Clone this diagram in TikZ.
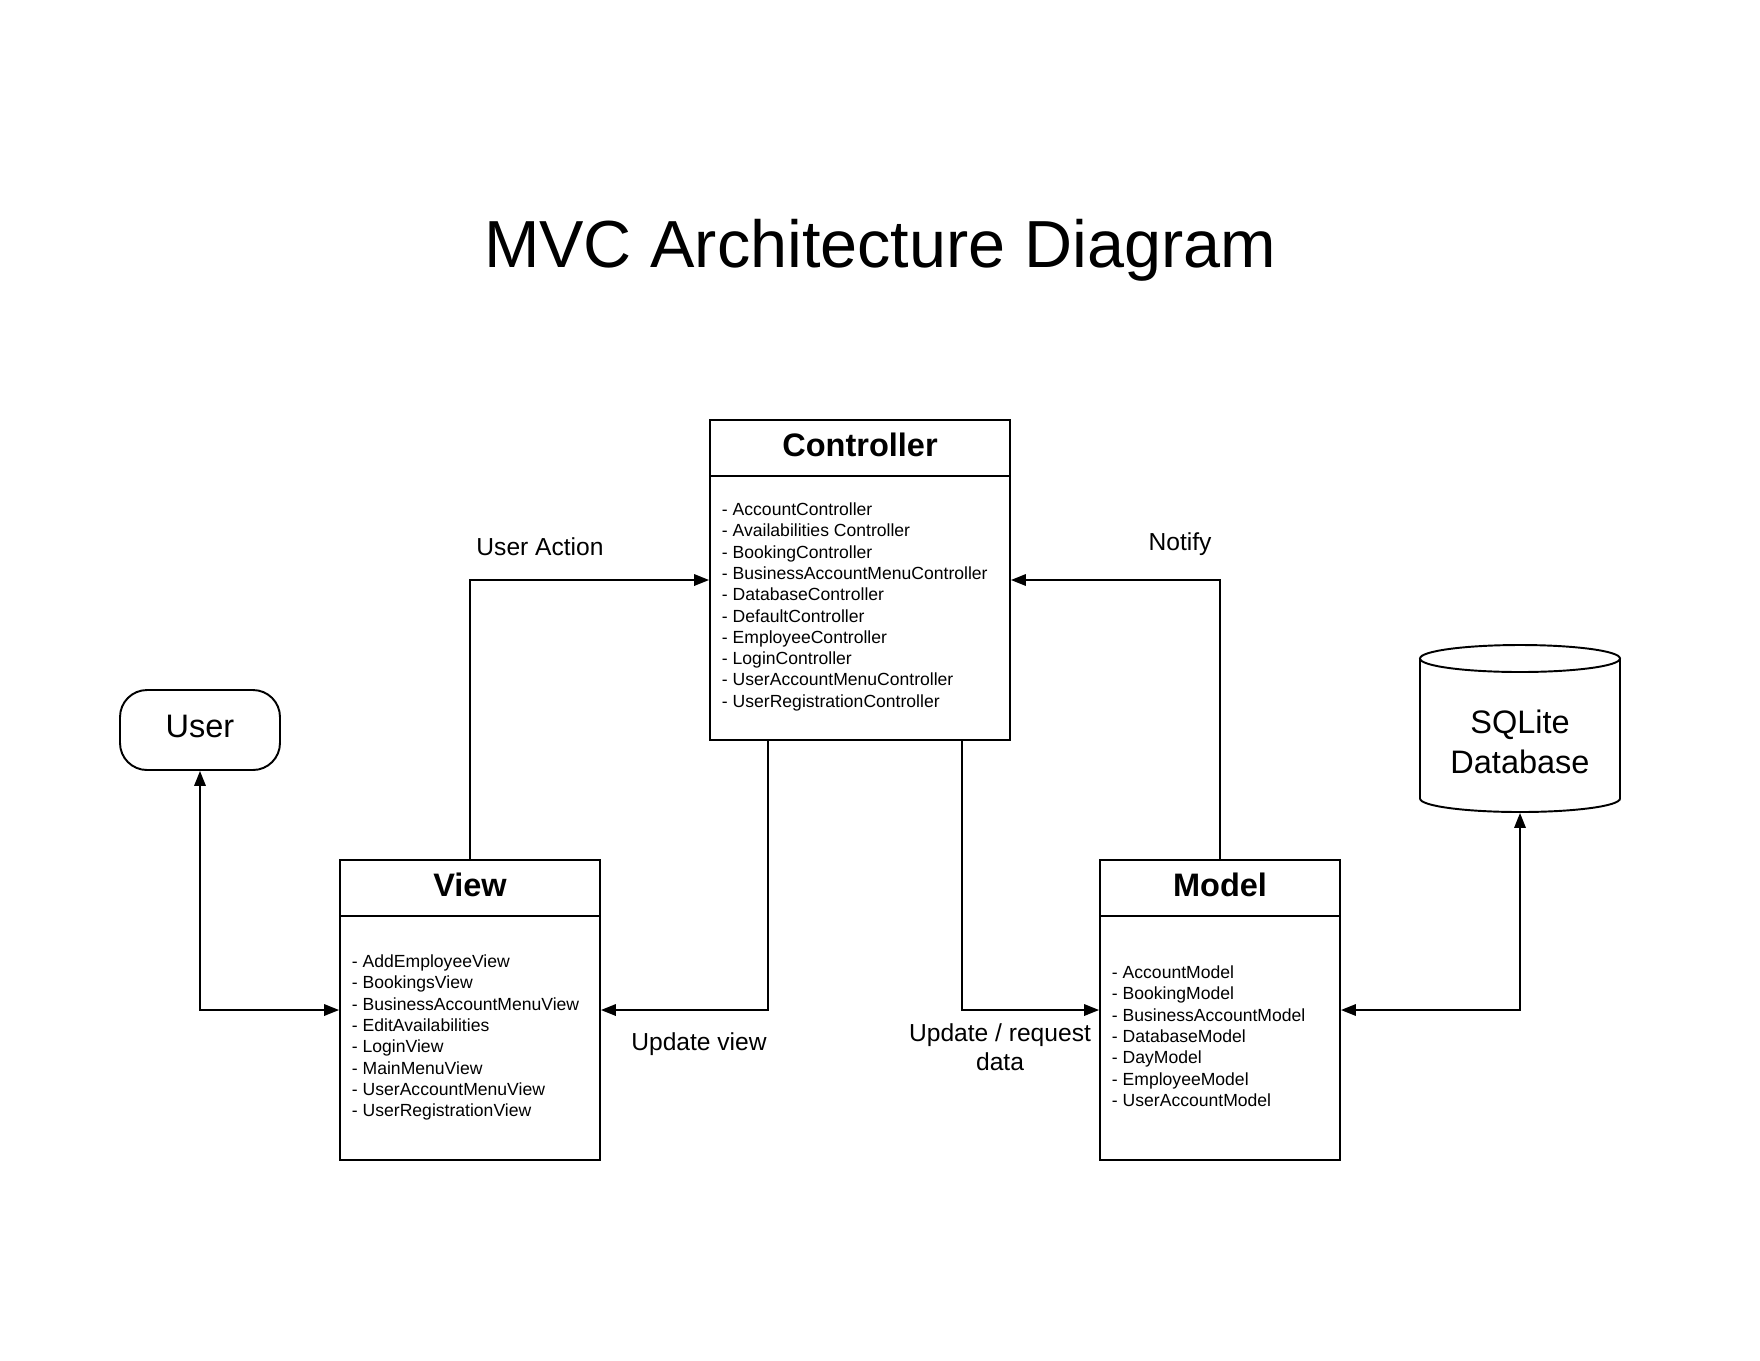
\documentclass[tikz,border=0pt]{standalone}
\usepackage{fontspec}
\setmainfont{Liberation Sans}
\usetikzlibrary{arrows.meta,calc}

\tikzset{
  classbox/.style={draw,rectangle,inner sep=0pt},
  headbox/.style={draw,rectangle,inner sep=0pt,minimum height=1.12cm,text depth=3.9pt,
    font=\fontsize{18.5}{22}\selectfont\bfseries},
  itemlist/.style={align=left,anchor=north west,inner sep=0pt,
    font=\fontsize{10}{12.1}\selectfont},
  flowlabel/.style={inner sep=0pt,font=\fontsize{14}{16.5}\selectfont},
  bigtext/.style={inner sep=0pt,font=\fontsize{18.5}{22.8}\selectfont}
}

\begin{document}
\begin{tikzpicture}[x=0.02cm,y=0.02cm,line width=1.1pt,
    >={Triangle[length=8.5pt,width=6.5pt]}]
  \useasboundingbox (0,0) rectangle (1760,-1360);
  % Title
  \node[inner sep=0pt,font=\fontsize{37.9}{45}\selectfont,anchor=base] (title)
    at (880,-267) {MVC Architecture Diagram};

  % Controller
  \node[classbox,minimum width=6cm,minimum height=6.4cm] (ctrl) at (860,-580) {};
  \node[headbox,minimum width=6cm,anchor=north] (ctrlhead) at (ctrl.north) {Controller};
  \node[itemlist] (ctrlitems) at (721,-502) {- AccountController\\- Availabilities Controller\\- BookingController\\- BusinessAccountMenuController\\- DatabaseController\\- DefaultController\\- EmployeeController\\- LoginController\\- UserAccountMenuController\\- UserRegistrationController};

  % View
  \node[classbox,minimum width=5.2cm,minimum height=6cm] (view) at (470,-1010) {};
  \node[headbox,minimum width=5.2cm,anchor=north] (viewhead) at (view.north) {View};
  \node[itemlist] (viewitems) at (351,-954) {- AddEmployeeView\\- BookingsView\\- BusinessAccountMenuView\\- EditAvailabilities\\- LoginView\\- MainMenuView\\- UserAccountMenuView\\- UserRegistrationView};

  % Model
  \node[classbox,minimum width=4.8cm,minimum height=6cm] (model) at (1220,-1010) {};
  \node[headbox,minimum width=4.8cm,anchor=north] (modelhead) at (model.north) {Model};
  \node[itemlist] (modelitems) at (1111,-965) {- AccountModel\\- BookingModel\\- BusinessAccountModel\\- DatabaseModel\\- DayModel\\- EmployeeModel\\- UserAccountModel};

  % User and database
  \node[draw,bigtext,text depth=3.9pt,rounded corners=0.54cm,minimum width=3.2cm,minimum height=1.6cm] (user)
    at (200,-730) {User};
  \node[bigtext,align=center,minimum width=4cm,minimum height=2.8cm] (db)
    at (1520,-742) {SQLite\\Database};
  \draw (1420,-658.5) -- (1420,-798.5)
    arc[start angle=180,end angle=360,x radius=100,y radius=13.5] -- (1620,-658.5);
  \draw (1520,-658.5) ellipse [x radius=100,y radius=13.5];

  % Connectors
  \draw[->] (view.north) |- (ctrl.west);
  \draw[->] ($(ctrl.south)+(-92,0)$) |- (view.east);
  \draw[->] ($(ctrl.south)+(102,0)$) |- (model.west);
  \draw[->] (model.north) |- (ctrl.east);
  \draw[<->] (user.south) |- (view.west);
  \draw[<->] (model.east) -| (db.south);

  % Labels
  \node[flowlabel,anchor=base] (actionlbl) at (540,-555) {User Action};
  \node[flowlabel,anchor=base] (notifylbl) at (1180,-550) {Notify};
  \node[flowlabel,anchor=base] (viewlbl) at (699,-1050) {Update view};
  \node[flowlabel,align=center,anchor=north] (datalbl) at (1000,-1023) {Update / request\\data};
\end{tikzpicture}
\end{document}
